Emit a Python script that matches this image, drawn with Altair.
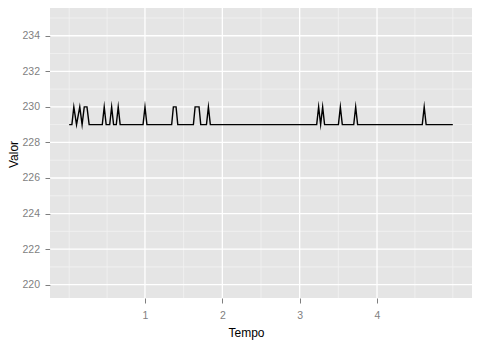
import altair as alt
import pandas as pd

# Line series (vertices)
tempo = [0.02, 0.055, 0.08, 0.115, 0.157, 0.187, 0.215, 0.25, 0.278,
         0.448, 0.473, 0.498, 0.544, 0.569, 0.594, 0.629, 0.654, 0.679,
         0.975, 1.0, 1.025, 1.345, 1.367, 1.402, 1.424,
         1.626, 1.648, 1.699, 1.721, 1.795, 1.82, 1.845,
         3.22, 3.245, 3.271, 3.297, 3.322, 3.501, 3.526, 3.551,
         3.699, 3.724, 3.749, 4.585, 4.61, 4.635, 4.98]
valor = [229, 229, 230, 229, 230, 229, 230, 230, 229,
         229, 230, 229, 229, 230, 229, 229, 230, 229,
         229, 230, 229, 229, 230, 230, 229,
         229, 230, 230, 229, 229, 230, 229,
         229, 230, 229, 230, 229, 229, 230, 229,
         229, 230, 229, 229, 230, 229, 229]

# Axis ticks / grid positions
x_major = [1, 2, 3, 4]
x_minor = [0.02, 0.51, 1.5, 2.5, 3.5, 4.49, 4.98]
y_major = [220, 222, 224, 226, 228, 230, 232, 234]
y_minor = [221, 223, 225, 227, 229, 231, 233, 235]

x_domain = [-0.228, 5.228]
y_domain = [219.25, 235.56]

FONT = "Liberation Sans"
GREY = "#7F7F7F"

xscale = alt.Scale(domain=x_domain, nice=False, zero=False)
yscale = alt.Scale(domain=y_domain, nice=False, zero=False)

xaxis = alt.Axis(values=x_major, title="Tempo", grid=False, domain=False,
                 tickColor=GREY, tickSize=5, tickWidth=1,
                 labelColor=GREY, labelFontSize=10.5, labelFont=FONT,
                 labelBaseline="alphabetic", labelPadding=15, labelFlush=False,
                 titleFont=FONT, titleFontSize=12, titleFontWeight="normal",
                 titleColor="black", titleX=196, titleY=38,
                 titleBaseline="alphabetic", titleAlign="center")
yaxis = alt.Axis(values=y_major, title="Valor", grid=False, domain=False,
                 format="d",
                 tickColor=GREY, tickSize=5, tickWidth=1,
                 labelColor=GREY, labelFontSize=10.5, labelFont=FONT,
                 labelBaseline="middle", labelAlign="right", labelPadding=5.5,
                 titleFont=FONT, titleFontSize=12, titleFontWeight="normal",
                 titleColor="black", titleX=-33, titleY=146, titleAngle=270,
                 titleBaseline="alphabetic", titleAlign="center")

line_df = pd.DataFrame({"Tempo": tempo, "Valor": valor})
xmin_df = pd.DataFrame({"x": x_minor})
ymin_df = pd.DataFrame({"y": y_minor})
xmaj_df = pd.DataFrame({"x": x_major})
ymaj_df = pd.DataFrame({"y": y_major})

minor_v = alt.Chart(xmin_df).mark_rule(color="#F2F2F2", strokeWidth=0.8).encode(
    x=alt.X("x:Q", scale=xscale, axis=xaxis))
minor_h = alt.Chart(ymin_df).mark_rule(color="#F2F2F2", strokeWidth=0.8).encode(
    y=alt.Y("y:Q", scale=yscale, axis=yaxis))
major_v = alt.Chart(xmaj_df).mark_rule(color="#FFFFFF", strokeWidth=1.3).encode(
    x=alt.X("x:Q", scale=xscale, axis=xaxis))
major_h = alt.Chart(ymaj_df).mark_rule(color="#FFFFFF", strokeWidth=1.3).encode(
    y=alt.Y("y:Q", scale=yscale, axis=yaxis))
line = alt.Chart(line_df).mark_line(color="black", strokeWidth=1.4,
                                    strokeJoin="miter", strokeMiterLimit=10).encode(
    x=alt.X("Tempo:Q", scale=xscale, axis=xaxis),
    y=alt.Y("Valor:Q", scale=yscale, axis=yaxis))

chart = alt.layer(minor_v, minor_h, major_v, major_h, line).properties(
    width=422, height=290,
    autosize=alt.AutoSizeParams(type="none"),
    padding={"left": 42, "top": 0, "right": 0, "bottom": 45},
    background="white",
).configure_view(fill="#E5E5E5", strokeWidth=0)

chart.save("out.html", embed_options={"renderer": "svg", "actions": False})
